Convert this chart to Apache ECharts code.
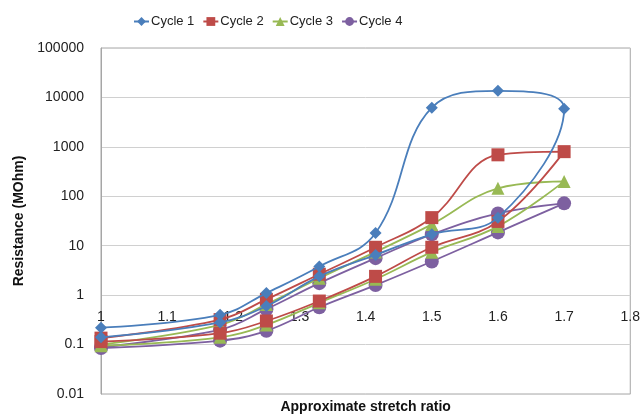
<!DOCTYPE html>
<html>
<head>
<meta charset="utf-8">
<script src="https://cdn.jsdelivr.net/npm/echarts@6/dist/echarts.min.js"></script>
<style>
  html, body { margin: 0; padding: 0; background: #fff; }
  #chart { width: 643px; height: 419px; }
</style>
</head>
<body>
<div id="chart"></div>
<script>
// stretch ratios: loading path up to 1.7, then unloading back to 1
const stretchUp = [1, 1.18, 1.25, 1.33, 1.415, 1.5, 1.6, 1.7];
const stretchDown = [1.6, 1.5, 1.415, 1.33, 1.25, 1.18, 1];

const cycle1Up = [0.22, 0.4, 1.1, 3.8, 18, 6200, 13600, 5900];
const cycle1Down = [37, 17, 6.5, 2.4, 0.6, 0.28, 0.14];

const cycle2Up = [0.135, 0.32, 0.82, 2.65, 9.3, 37, 690, 800];
const cycle2Down = [31, 9.3, 2.4, 0.76, 0.3, 0.17, 0.115];

const cycle3Up = [0.1, 0.25, 0.65, 2.2, 7.5, 27, 145, 200];
const cycle3Down = [24.6, 7.4, 2.1, 0.7, 0.25, 0.14, 0.095];

const cycle4Up = [0.09, 0.2, 0.52, 1.75, 5.6, 17, 45, 72];
const cycle4Down = [18.6, 4.8, 1.6, 0.57, 0.19, 0.12, 0.085];

const names = ['Cycle 1', 'Cycle 2', 'Cycle 3', 'Cycle 4'];
const colors = ['#4A7EBB', '#BE4B48', '#98B954', '#7D60A0'];
const symbols = ['diamond', 'rect', 'triangle', 'circle'];
const sizes = [12, 13, 13, 14];

function pairs(up, down) {
  const pts = up.map((v, i) => [stretchUp[i], v]);
  down.forEach((v, i) => pts.push([stretchDown[i], v]));
  return pts;
}

const cycles = [
  pairs(cycle1Up, cycle1Down),
  pairs(cycle2Up, cycle2Down),
  pairs(cycle3Up, cycle3Down),
  pairs(cycle4Up, cycle4Down)
];

const font = 'Liberation Sans, Arial, sans-serif';
const myChart = echarts.init(document.getElementById('chart'));

const option = {
  animation: false,
  textStyle: { fontFamily: font },
  legend: {
    top: 10,
    left: 128,
    itemWidth: 15,
    itemHeight: 11,
    itemGap: 8,
    textStyle: { fontSize: 13, color: '#222', fontFamily: font, padding: [0, 0, 0, -3] },
    data: names
  },
  grid: {
    left: 101,
    right: 10,
    top: 48,
    bottom: 24,
    show: true,
    borderColor: '#A6A6A6',
    borderWidth: 1
  },
  xAxis: {
    type: 'value',
    min: 1,
    max: 1.8,
    interval: 0.1,
    name: 'Approximate stretch ratio',
    nameLocation: 'middle',
    nameGap: 6,
    nameTextStyle: { fontSize: 14, fontWeight: 'bold', color: '#111', fontFamily: font, verticalAlign: 'top' },
    axisLine: { show: false },
    axisTick: { show: false },
    splitLine: { show: false },
    axisLabel: {
      margin: -84,
      fontSize: 14,
      color: '#222',
      fontFamily: font,
      formatter: v => String(Math.round(v * 10) / 10)
    }
  },
  yAxis: {
    type: 'log',
    logBase: 10,
    min: 0.01,
    max: 100000,
    name: 'Resistance (MOhm)',
    nameLocation: 'middle',
    nameGap: 75,
    nameTextStyle: { fontSize: 14, fontWeight: 'bold', color: '#111', fontFamily: font },
    axisLine: { show: true, lineStyle: { color: '#A6A6A6' } },
    axisTick: { show: false },
    splitLine: { show: true, lineStyle: { color: '#D0D0D0', width: 1 } },
    axisLabel: {
      margin: 17,
      fontSize: 14,
      color: '#222',
      fontFamily: font,
      formatter: v => {
        const e = Math.round(Math.log10(v));
        return e < 0 ? v.toFixed(-e) : String(Math.pow(10, e));
      }
    }
  },
  series: names.map((n, i) => ({
    name: n,
    type: 'line',
    smooth: 0.4,
    data: cycles[i],
    symbol: symbols[i],
    symbolSize: sizes[i],
    lineStyle: { color: colors[i], width: 1.8 },
    itemStyle: { color: colors[i] },
    z: 10 - i
  }))
};

myChart.setOption(option, true);
</script>
</body>
</html>
